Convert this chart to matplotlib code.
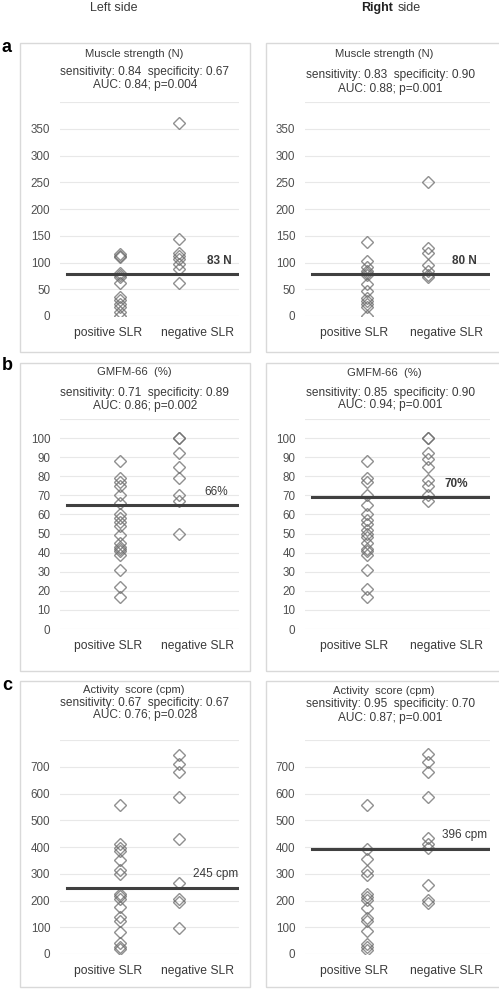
import matplotlib
matplotlib.use("Agg")
import matplotlib.pyplot as plt
from matplotlib.patches import Rectangle

plt.rcParams['font.family'] = ['Liberation Sans', 'DejaVu Sans']

# --- data ---
groups = ['positive SLR', 'negative SLR']

left_strength_pos = [116, 113, 110, 80, 76, 72, 62, 35, 29, 23, 16, 8, 0]
left_strength_neg = [361, 143, 117, 112, 106, 98, 88, 62]
right_strength_pos = [139, 103, 92, 85, 80, 76, 59, 46, 33, 28, 22, 16, 0]
right_strength_neg = [250, 128, 118, 95, 85, 77, 72]

left_gmfm_pos = [88, 79, 77, 75, 70, 66, 60, 58, 56, 54, 49, 45, 43, 42, 41, 39, 31, 22, 17]
left_gmfm_neg = [100, 100, 92, 85, 79, 70, 67, 50]
right_gmfm_pos = [88, 79, 77, 70, 65, 60, 57, 55, 52, 50, 48, 45, 42, 41, 39, 31, 21, 17]
right_gmfm_neg = [100, 100, 92, 89, 85, 78, 75, 70, 67]

left_act_pos = [558, 410, 398, 385, 353, 313, 300, 225, 215, 205, 175, 140, 125, 82, 40, 28, 20]
left_act_neg = [744, 712, 682, 586, 430, 265, 205, 195, 97]
right_act_pos = [557, 392, 355, 312, 294, 226, 214, 202, 171, 135, 122, 86, 37, 25, 15]
right_act_neg = [746, 716, 680, 588, 434, 410, 398, 257, 203, 192]

titles = ['Muscle strength (N)', 'GMFM-66  (%)', 'Activity  score (cpm)']
stats_left = [('sensitivity: 0.84  specificity: 0.67', 'AUC: 0.84; p=0.004'),
              ('sensitivity: 0.71  specificity: 0.89', 'AUC: 0.86; p=0.002'),
              ('sensitivity: 0.67  specificity: 0.67', 'AUC: 0.76; p=0.028')]
stats_right = [('sensitivity: 0.83  specificity: 0.90', 'AUC: 0.88; p=0.001'),
               ('sensitivity: 0.85  specificity: 0.90', 'AUC: 0.94; p=0.001'),
               ('sensitivity: 0.95  specificity: 0.70', 'AUC: 0.87; p=0.001')]
cut_left = [78, 65, 248]
cut_right = [79, 69, 394]
cut_labels_left = ['83 N', '66%', '245 cpm']
cut_labels_right = ['80 N', '70%', '396 cpm']

y_max = [400, 110, 800]
y_ticks = [list(range(0, 351, 50)), list(range(0, 101, 10)), list(range(0, 701, 100))]

# --- layout (pixels) ---
W, H = 499, 992
fig = plt.figure(figsize=(W / 100, H / 100), dpi=100)


def frect(x0, y0, x1, y1):
    return [x0 / W, 1 - y1 / H, (x1 - x0) / W, (y1 - y0) / H]


def fx(x):
    return x / W


def fy(y):
    return 1 - y / H


boxes_y = [(43, 352), (363, 671), (681, 987)]
axes_y = [(102, 316), (419, 629), (740, 954)]
title_y_left = [(54, 72, 85), (372, 393, 406), (690, 703, 715)]
title_y_right = [(54, 75, 89), (373, 393, 405), (691, 704, 718)]
cols = {'left': dict(box=(20, 250), ax=(60, 239), tcx=134, scx=145),
        'right': dict(box=(266, 502), ax=(305, 490), tcx=384, scx=390)}
label_x_left = [2.88, 2.82, 2.98]
label_x_right = [2.79, 2.64, 2.95]
label_bold_left = [True, False, False]
label_bold_right = [True, True, False]

grey_text = '#3a3a3a'
tick_grey = '#505050'


def draw_panel(col, row, pos, neg, cut, cut_label, lab_x, bold, stats, ty):
    c = cols[col]
    bx0, bx1 = c['box']
    by0, by1 = boxes_y[row]
    fig.add_artist(Rectangle((fx(bx0), fy(by1)), (bx1 - bx0) / W, (by1 - by0) / H,
                             transform=fig.transFigure, fill=False,
                             edgecolor='#d9d9d9', linewidth=1))
    ax0, ax1 = c['ax']
    ay0, ay1 = axes_y[row]
    ax = fig.add_axes(frect(ax0, ay0, ax1, ay1))
    ax.set_xlim(0, 3)
    ax.set_ylim(0, y_max[row])
    ax.set_yticks(y_ticks[row] + [y_max[row]])
    ax.set_yticklabels([str(v) for v in y_ticks[row]] + [''])
    ax.set_xticks([0.8, 2.3])
    ax.set_xticklabels(groups)
    ax.tick_params(length=0, labelsize=8.4, labelcolor=tick_grey)
    ax.tick_params(axis='y', pad=7)
    ax.tick_params(axis='x', pad=8, labelsize=8.7, labelcolor=grey_text)
    for s in ax.spines.values():
        s.set_visible(False)
    ax.grid(axis='y', color='#e8e8e8', linewidth=0.8)
    ax.set_axisbelow(True)
    ax.patch.set_alpha(0)

    for i, vals in enumerate([pos, neg]):
        ax.plot([i + 1] * len(vals), vals, linestyle='none', marker='D', ms=5.8,
                mfc='none', mec=(0.42, 0.42, 0.42, 0.75), mew=1.0, zorder=2)
    ax.axhline(cut, xmin=0.04, xmax=0.995, color='#404040', linewidth=2.2, zorder=3)
    ax.annotate(cut_label, (lab_x, cut), xytext=(0, 9.5), textcoords='offset points',
                ha='right', va='center', fontsize=8.5, color=grey_text,
                fontweight='bold' if bold else 'normal')

    fig.text(fx(c['tcx']), fy(ty[0]), titles[row], ha='center', va='center',
             fontsize=8.1, color=grey_text)
    fig.text(fx(c['scx']), fy(ty[1]), stats[0], ha='center', va='center',
             fontsize=8.6, color=grey_text)
    fig.text(fx(c['scx']), fy(ty[2]), stats[1], ha='center', va='center',
             fontsize=8.6, color=grey_text)


left_sets = [(left_strength_pos, left_strength_neg), (left_gmfm_pos, left_gmfm_neg),
             (left_act_pos, left_act_neg)]
right_sets = [(right_strength_pos, right_strength_neg), (right_gmfm_pos, right_gmfm_neg),
              (right_act_pos, right_act_neg)]

for r in range(3):
    draw_panel('left', r, left_sets[r][0], left_sets[r][1], cut_left[r],
               cut_labels_left[r], label_x_left[r], label_bold_left[r],
               stats_left[r], title_y_left[r])
    draw_panel('right', r, right_sets[r][0], right_sets[r][1], cut_right[r],
               cut_labels_right[r], label_x_right[r], label_bold_right[r],
               stats_right[r], title_y_right[r])

# column headers and panel letters
fig.text(fx(114), fy(8), 'Left side', ha='center', va='center', fontsize=9, color=grey_text)
fig.text(fx(393), fy(8), 'Right', ha='right', va='center', fontsize=9,
         color='#222222', fontweight='bold')
fig.text(fx(398), fy(8), 'side', ha='left', va='center', fontsize=9, color=grey_text)
for letter, yy in zip(['a', 'b', 'c'], [47, 366, 686]):
    fig.text(fx(7), fy(yy), letter, ha='center', va='center', fontsize=13,
             fontweight='bold', color='black')

fig.savefig('out.png', dpi=100)
